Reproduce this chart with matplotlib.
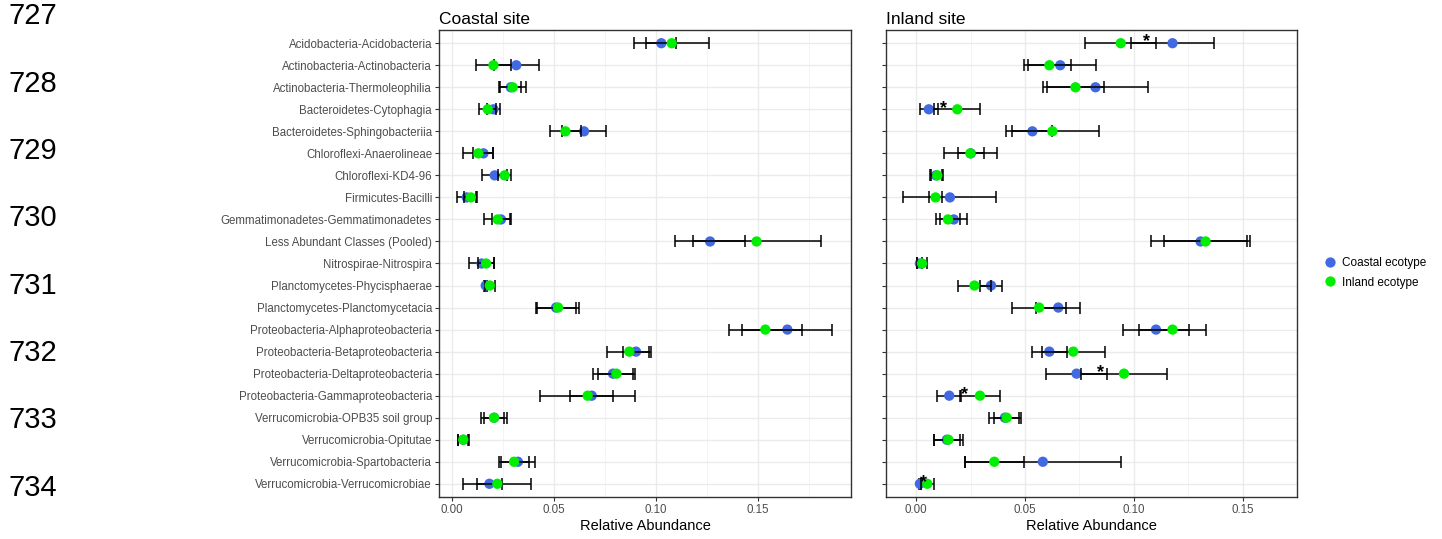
import matplotlib
matplotlib.use("Agg")
import matplotlib.pyplot as plt
from matplotlib.lines import Line2D

plt.rcParams['font.family'] = ['Liberation Sans', 'DejaVu Sans']

categories = [
    "Acidobacteria-Acidobacteria",
    "Actinobacteria-Actinobacteria",
    "Actinobacteria-Thermoleophilia",
    "Bacteroidetes-Cytophagia",
    "Bacteroidetes-Sphingobacteriia",
    "Chloroflexi-Anaerolineae",
    "Chloroflexi-KD4-96",
    "Firmicutes-Bacilli",
    "Gemmatimonadetes-Gemmatimonadetes",
    "Less Abundant Classes (Pooled)",
    "Nitrospirae-Nitrospira",
    "Planctomycetes-Phycisphaerae",
    "Planctomycetes-Planctomycetacia",
    "Proteobacteria-Alphaproteobacteria",
    "Proteobacteria-Betaproteobacteria",
    "Proteobacteria-Deltaproteobacteria",
    "Proteobacteria-Gammaproteobacteria",
    "Verrucomicrobia-OPB35 soil group",
    "Verrucomicrobia-Opitutae",
    "Verrucomicrobia-Spartobacteria",
    "Verrucomicrobia-Verrucomicrobiae",
]

# Coastal site panel
coastal_site_coastal_mean = [0.1026, 0.0315, 0.0288, 0.0203, 0.0647, 0.0154, 0.0209, 0.0072,
                             0.0240, 0.1265, 0.0145, 0.0165, 0.0510, 0.1644, 0.0902, 0.0789,
                             0.0685, 0.0206, 0.0055, 0.0323, 0.0183]
coastal_site_coastal_se = [0.0073, 0.0111, 0.0052, 0.0033, 0.0106, 0.0049, 0.0060, 0.0047,
                           0.0044, 0.0170, 0.0060, 0.0008, 0.0100, 0.0221, 0.0064, 0.0098,
                           0.0105, 0.0050, 0.0028, 0.0085, 0.0063]
coastal_site_inland_mean = [0.1077, 0.0203, 0.0297, 0.0175, 0.0556, 0.0129, 0.0258, 0.0092,
                            0.0224, 0.1493, 0.0167, 0.0185, 0.0520, 0.1536, 0.0869, 0.0806,
                            0.0665, 0.0206, 0.0055, 0.0304, 0.0222]
coastal_site_inland_se = [0.0185, 0.0088, 0.0068, 0.0041, 0.0078, 0.0074, 0.0031, 0.0031,
                          0.0067, 0.0314, 0.0038, 0.0025, 0.0103, 0.0180, 0.0108, 0.0092,
                          0.0233, 0.0065, 0.0024, 0.0072, 0.0167]

# Inland site panel
inland_site_coastal_mean = [0.1178, 0.0662, 0.0824, 0.0058, 0.0534, 0.0251, 0.0091, 0.0155,
                            0.0173, 0.1307, 0.0017, 0.0344, 0.0653, 0.1102, 0.0612, 0.0737,
                            0.0152, 0.0408, 0.0141, 0.0582, 0.0017]
inland_site_coastal_se = [0.0190, 0.0165, 0.0241, 0.0041, 0.0092, 0.0060, 0.0028, 0.0214,
                          0.0062, 0.0227, 0.0012, 0.0051, 0.0101, 0.0151, 0.0082, 0.0139,
                          0.0054, 0.0074, 0.0060, 0.0359, 0.0005]
inland_site_inland_mean = [0.0940, 0.0612, 0.0732, 0.0189, 0.0626, 0.0249, 0.0097, 0.0089,
                           0.0146, 0.1330, 0.0027, 0.0268, 0.0565, 0.1178, 0.0722, 0.0955,
                           0.0293, 0.0416, 0.0148, 0.0359, 0.0051]
inland_site_inland_se = [0.0163, 0.0099, 0.0131, 0.0106, 0.0212, 0.0121, 0.0028, 0.0031,
                         0.0056, 0.0190, 0.0021, 0.0078, 0.0124, 0.0156, 0.0145, 0.0196,
                         0.0091, 0.0058, 0.0066, 0.0135, 0.0029]

# significance markers (inland site)
inland_sig_rows = ["Acidobacteria-Acidobacteria", "Bacteroidetes-Cytophagia",
                   "Proteobacteria-Deltaproteobacteria", "Proteobacteria-Gammaproteobacteria",
                   "Verrucomicrobia-Verrucomicrobiae"]

line_numbers = ["727", "728", "729", "730", "731", "732", "733", "734"]
xticks = [0.0, 0.05, 0.10, 0.15]
xtick_labels = ["0.00", "0.05", "0.10", "0.15"]

BLUE = "#4169E1"
GREEN = "#00EE00"
W, H = 1442, 539

fig = plt.figure(figsize=(W / 100, H / 100), dpi=100)


def px_axes(x0, x1, y0, y1):
    return fig.add_axes([x0 / W, 1 - y1 / H, (x1 - x0) / W, (y1 - y0) / H])


axL = px_axes(439, 851, 30, 497)
axR = px_axes(885.7, 1297, 30, 497)

rows = list(range(1, len(categories) + 1))


def draw(ax, cm, cs, im, is_, title, xlim, show_labels, sig=None):
    ax.set_xlim(*xlim)
    ax.set_ylim(21.6, 0.4)
    ax.set_xticks(xticks)
    ax.set_xticks([0.025, 0.075, 0.125, 0.175], minor=True)
    ax.set_xticklabels(xtick_labels)
    ax.set_yticks(rows)
    if show_labels:
        ax.set_yticklabels(categories)
    else:
        ax.set_yticklabels([])
    ax.grid(True, which='major', color='#EBEBEB', lw=1.0, zorder=0)
    ax.grid(True, which='minor', axis='x', color='#F2F2F2', lw=0.6, zorder=0)
    ax.set_axisbelow(True)
    for s in ax.spines.values():
        s.set_color('#333333')
        s.set_linewidth(1.0)
    ax.tick_params(axis='both', which='major', length=3, width=0.8, color='#333333',
                   labelcolor='#4D4D4D', labelsize=8.3, pad=2)
    ax.tick_params(axis='both', which='minor', length=0)
    ax.errorbar(cm, rows, xerr=cs, fmt='none', ecolor='black', elinewidth=1.1,
                capsize=4.5, capthick=1.1, zorder=2)
    ax.scatter(cm, rows, s=55, color=BLUE, edgecolors='none', zorder=3)
    ax.errorbar(im, rows, xerr=is_, fmt='none', ecolor='black', elinewidth=1.1,
                capsize=4.5, capthick=1.1, zorder=4)
    ax.scatter(im, rows, s=55, color=GREEN, edgecolors='none', zorder=5)
    ax.set_title(title, loc='left', fontsize=12.5, color='black', pad=4)
    ax.set_xlabel("Relative Abundance", fontsize=10.5, color='black', labelpad=2)
    if sig:
        for name in sig:
            i = categories.index(name)
            mid = (cm[i] + im[i]) / 2
            ax.text(mid, rows[i] + 0.15, "*", ha='center', va='baseline',
                    fontsize=13, fontweight='bold', color='black', zorder=6)


draw(axL, coastal_site_coastal_mean, coastal_site_coastal_se,
     coastal_site_inland_mean, coastal_site_inland_se, "Coastal site",
     (-0.0064, 0.1956), True)
draw(axR, inland_site_coastal_mean, inland_site_coastal_se,
     inland_site_inland_mean, inland_site_inland_se, "Inland site",
     (-0.0140, 0.1608), False, sig=inland_sig_rows)

# legend
handles = [Line2D([0], [0], marker='o', color='none', markerfacecolor=BLUE,
                  markeredgecolor='none', markersize=7.4, label="Coastal ecotype"),
           Line2D([0], [0], marker='o', color='none', markerfacecolor=GREEN,
                  markeredgecolor='none', markersize=7.4, label="Inland ecotype")]
fig.legend(handles=handles, loc='center left', bbox_to_anchor=(1324 / W, 1 - 273 / H),
           frameon=False, fontsize=8.5, handlelength=1.0, handletextpad=0.5,
           labelspacing=0.6, borderaxespad=0, borderpad=0)

# manuscript line numbers
ln_y = [16, 84, 151, 218, 286, 353, 420, 488]
for lab, yy in zip(line_numbers, ln_y):
    fig.text(8 / W, 1 - yy / H, lab, fontsize=21, ha='left', va='center', color='black')

fig.savefig("out.png", dpi=100)
